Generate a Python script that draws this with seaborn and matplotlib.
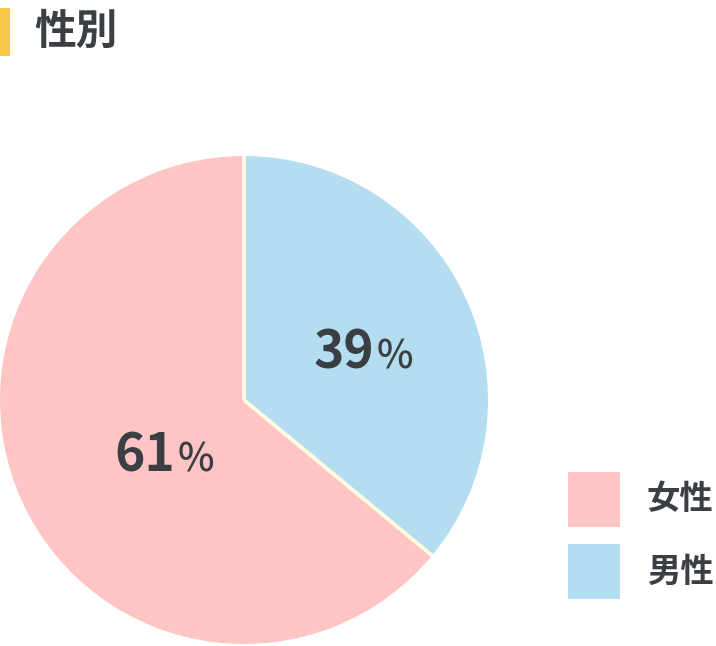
import matplotlib
matplotlib.use("Agg")
import matplotlib.pyplot as plt
from matplotlib.patches import Rectangle
import numpy as np
import seaborn as sns

sns.set_style("white")
plt.rcParams['font.family'] = ['Noto Sans CJK JP', 'DejaVu Sans']

title = "性別"
categories = ["男性", "女性"]
label_values = [39, 61]          # printed percentages
slice_shares = [36, 64]          # wedge sizes as drawn in the picture
colors = ["#b4ddf1", "#ffc5c5"]
legend_order = ["女性", "男性"]

W, H = 716, 646
fig = plt.figure(figsize=(W / 100, H / 100), dpi=100)
fig.patch.set_facecolor("white")

ax = fig.add_axes([0 / W, 2 / H, 488 / W, 488 / H])
wedges, _ = ax.pie(slice_shares, colors=colors, startangle=90, counterclock=False,
                   wedgeprops=dict(edgecolor="none", linewidth=0))
# cream separators along the radii only
for w in wedges:
    for th in (w.theta1, w.theta2):
        t = np.deg2rad(th)
        ax.plot([0, np.cos(t)], [0, np.sin(t)], color="#fffbe0", lw=2.6,
                solid_capstyle="butt", zorder=3)
ax.set_xlim(-1, 1)
ax.set_ylim(-1, 1)
ax.set_aspect("equal")
ax.axis("off")

txt = "#3b3f43"
label_pos = {"男性": (0.533, 0.131), "女性": (-0.283, -0.295)}
for cat, v in zip(categories, label_values):
    x, y = label_pos[cat]
    ax.text(x, y, f"{v}", ha="right", va="baseline", fontsize=37,
            fontweight="bold", color=txt, zorder=4)
    ax.text(x + 0.01, y, "%", ha="left", va="baseline", fontsize=28,
            fontweight="medium", color=txt, zorder=4)

# title with yellow bar
fig.add_artist(Rectangle((0, 1 - 56 / H), 10 / W, 48 / H, transform=fig.transFigure,
                         facecolor="#f7c948", edgecolor="none"))
fig.text(34 / W, 1 - 32 / H, title, ha="left", va="center", fontsize=30,
         fontweight="bold", color=txt)

# legend
cmap = dict(zip(categories, colors))
for i, cat in enumerate(legend_order):
    top = 472 + i * 72
    fig.add_artist(Rectangle((568 / W, 1 - (top + 55) / H), 52 / W, 55 / H,
                             transform=fig.transFigure, facecolor=cmap[cat],
                             edgecolor="none"))
    fig.text(647 / W, 1 - (top + 28) / H, cat, ha="left", va="center",
             fontsize=24, fontweight="bold", color=txt)

fig.savefig("out.png", dpi=100, facecolor="white")
